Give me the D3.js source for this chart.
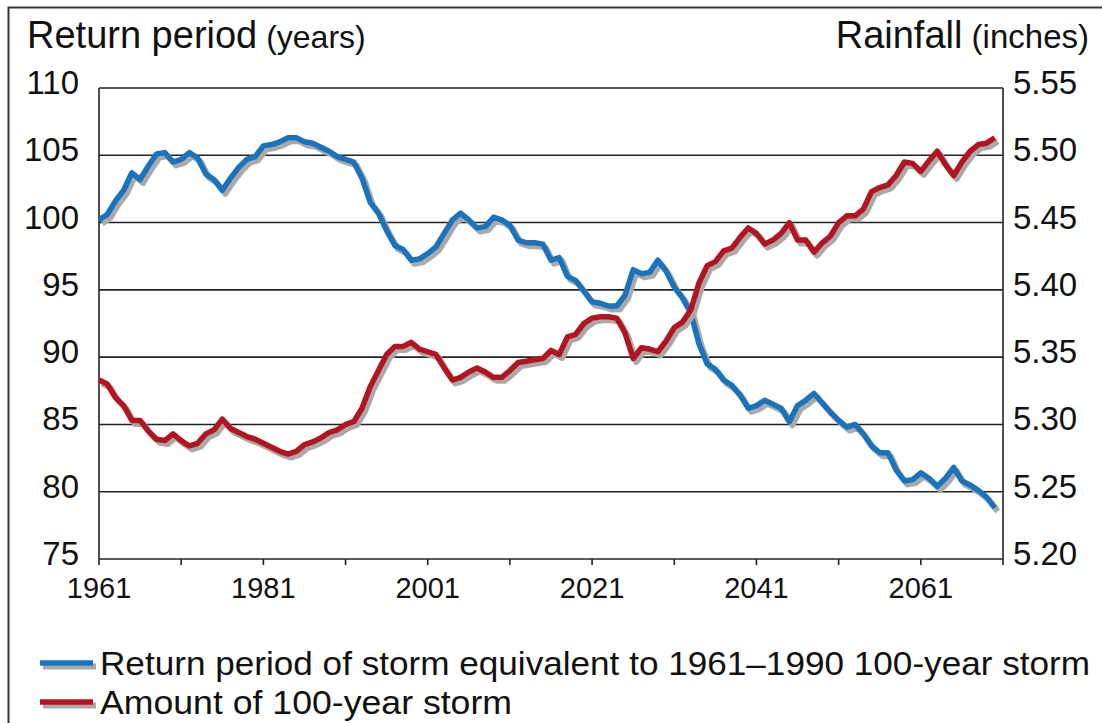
<!DOCTYPE html>
<html>
<head>
<meta charset="utf-8">
<script src="https://cdn.jsdelivr.net/npm/d3@7"></script>
<style>
  body { margin: 0; background: #fff; }
  svg { display: block; font-family: 'Liberation Sans', Arial, sans-serif; }
</style>
</head>
<body>
<svg id="chart" width="1102" height="723"></svg>
<script>
const firstYear = 1961;
const lastYear = 2070;
const years = d3.range(firstYear, lastYear + 1);

// Return period of storm equivalent to the 1961-1990 100-year storm (years)
const returnPeriod = [
  100.2, 100.6, 101.6, 102.4, 103.7, 103.2, 104.2, 105.1, 105.2, 104.5,
  104.7, 105.2, 104.8, 103.6, 103.2, 102.4, 103.3, 104.1, 104.7, 104.9,
  105.7, 105.8, 106.0, 106.3, 106.3, 106.0, 105.9, 105.6, 105.3, 104.9,
  104.7, 104.5, 103.3, 101.5, 100.7, 99.4, 98.3, 98.0, 97.2, 97.3,
  97.7, 98.2, 99.2, 100.2, 100.7, 100.2, 99.6, 99.7, 100.4, 100.2,
  99.8, 98.7, 98.5, 98.5, 98.4, 97.2, 97.4, 96.0, 95.7, 94.9,
  94.1, 94.0, 93.8, 93.8, 94.6, 96.5, 96.2, 96.3, 97.2, 96.4,
  95.2, 94.4, 93.3, 91.0, 89.5, 89.1, 88.3, 87.9, 87.2, 86.2,
  86.4, 86.8, 86.5, 86.2, 85.2, 86.4, 86.8, 87.3, 86.6, 85.9,
  85.3, 84.8, 85.0, 84.3, 83.4, 82.9, 82.9, 81.6, 80.8, 80.9,
  81.4, 81.0, 80.4, 81.0, 81.8, 80.8, 80.5, 80.1, 79.6, 78.8,
];

// Amount of the 100-year storm (inches)
const rainfall = [
  5.333, 5.330, 5.320, 5.314, 5.303, 5.303, 5.295, 5.289, 5.288, 5.293,
  5.288, 5.284, 5.286, 5.293, 5.296, 5.304, 5.297, 5.294, 5.291, 5.289,
  5.286, 5.283, 5.280, 5.278, 5.280, 5.285, 5.287, 5.290, 5.294, 5.296,
  5.300, 5.302, 5.312, 5.328, 5.340, 5.352, 5.358, 5.358, 5.361, 5.356,
  5.354, 5.352, 5.342, 5.333, 5.335, 5.339, 5.342, 5.339, 5.335, 5.335,
  5.340, 5.346, 5.347, 5.348, 5.349, 5.355, 5.352, 5.365, 5.367, 5.375,
  5.379, 5.380, 5.380, 5.379, 5.368, 5.349, 5.357, 5.356, 5.354, 5.362,
  5.372, 5.376, 5.385, 5.405, 5.418, 5.421, 5.429, 5.431, 5.439, 5.446,
  5.442, 5.434, 5.437, 5.442, 5.450, 5.437, 5.437, 5.428, 5.435, 5.440,
  5.450, 5.455, 5.455, 5.460, 5.473, 5.476, 5.478, 5.485, 5.495, 5.494,
  5.488, 5.496, 5.503, 5.493, 5.485, 5.495, 5.503, 5.508, 5.509, 5.513,
];

const xTicks = [1961, 1971, 1981, 1991, 2001, 2011, 2021, 2031, 2041, 2051, 2061, 2071];
const xLabels = [1961, 1981, 2001, 2021, 2041, 2061];
const leftTicks = [75, 80, 85, 90, 95, 100, 105, 110];
const rightTicks = [5.20, 5.25, 5.30, 5.35, 5.40, 5.45, 5.50, 5.55];

const legendItems = [
  { label: 'Return period of storm equivalent to 1961\u20131990 100-year storm', color: '#1a74bd', width: 990 },
  { label: 'Amount of 100-year storm', color: '#b3141f', width: 412 },
];

const svg = d3.select('#chart');
const margin = { top: 88, right: 99, bottom: 164, left: 99 };
const width = 1102 - margin.left - margin.right;
const height = 723 - margin.top - margin.bottom;
const shadow = '#a9a9a9';

// outer frame (only the top and left edges are inside the picture)
svg.append('path')
  .attr('d', 'M8.5,723 V7.5 H1102')
  .attr('fill', 'none')
  .attr('stroke', '#333')
  .attr('stroke-width', 2);

const g = svg.append('g')
  .attr('transform', `translate(${margin.left}, ${margin.top})`);

const x = d3.scaleLinear().domain([1961, 2071]).range([0, width]);
const yLeft = d3.scaleLinear().domain([75, 110]).range([height, 0]);
const yRight = d3.scaleLinear().domain([5.20, 5.55]).range([height, 0]);

// gridlines
g.selectAll('line.grid')
  .data(leftTicks)
  .enter().append('line')
  .attr('class', 'grid')
  .attr('x1', 0)
  .attr('x2', width)
  .attr('y1', d => yLeft(d))
  .attr('y2', d => yLeft(d))
  .attr('stroke', '#222')
  .attr('stroke-width', 1.6);

// frame sides
g.append('line')
  .attr('x1', 0).attr('x2', 0)
  .attr('y1', 0).attr('y2', height)
  .attr('stroke', '#222').attr('stroke-width', 1.6);
g.append('line')
  .attr('x1', width).attr('x2', width)
  .attr('y1', 0).attr('y2', height)
  .attr('stroke', '#222').attr('stroke-width', 1.6);

// x axis ticks and labels
g.selectAll('line.xtick')
  .data(xTicks)
  .enter().append('line')
  .attr('class', 'xtick')
  .attr('x1', d => x(d))
  .attr('x2', d => x(d))
  .attr('y1', height)
  .attr('y2', height + 6)
  .attr('stroke', '#222')
  .attr('stroke-width', 1.6);

g.selectAll('text.xlabel')
  .data(xLabels)
  .enter().append('text')
  .attr('class', 'xlabel')
  .attr('x', d => x(d))
  .attr('y', height + 39)
  .attr('text-anchor', 'middle')
  .attr('font-size', 29)
  .attr('fill', '#111')
  .text(d => d);

// y labels
g.selectAll('text.ylabel')
  .data(leftTicks)
  .enter().append('text')
  .attr('class', 'ylabel')
  .attr('x', -20)
  .attr('y', d => yLeft(d) + 6)
  .attr('text-anchor', 'end')
  .attr('font-size', 33)
  .attr('fill', '#111')
  .text(d => d);

g.selectAll('text.rlabel')
  .data(rightTicks)
  .enter().append('text')
  .attr('class', 'rlabel')
  .attr('x', width + 10)
  .attr('y', d => yRight(d) + 6)
  .attr('font-size', 33)
  .attr('fill', '#111')
  .text(d => d.toFixed(2));

// axis titles
const leftTitle = svg.append('text')
  .attr('x', 27)
  .attr('y', 48)
  .attr('fill', '#111');
leftTitle.append('tspan').attr('font-size', 38).text('Return period');
leftTitle.append('tspan').attr('font-size', 32).text(' (years)');

const rightTitle = svg.append('text')
  .attr('x', 1089)
  .attr('y', 48)
  .attr('text-anchor', 'end')
  .attr('fill', '#111');
rightTitle.append('tspan').attr('font-size', 38).text('Rainfall');
rightTitle.append('tspan').attr('font-size', 33).text(' (inches)');

// series lines with drop shadows
const blueLine = d3.line()
  .x((d, i) => x(years[i]))
  .y(d => yLeft(d));
const redLine = d3.line()
  .x((d, i) => x(years[i]))
  .y(d => yRight(d));

const series = [
  { values: returnPeriod, gen: blueLine, color: legendItems[0].color },
  { values: rainfall, gen: redLine, color: legendItems[1].color },
];

series.forEach((s) => {
  g.append('path')
    .datum(s.values)
    .attr('d', s.gen)
    .attr('transform', 'translate(3, 3.5)')
    .attr('fill', 'none')
    .attr('stroke', shadow)
    .attr('stroke-width', 6)
    .attr('stroke-linejoin', 'round');
  g.append('path')
    .datum(s.values)
    .attr('d', s.gen)
    .attr('fill', 'none')
    .attr('stroke', s.color)
    .attr('stroke-width', 5.5)
    .attr('stroke-linejoin', 'round');
});

// legend
const legend = svg.selectAll('g.legend')
  .data(legendItems)
  .enter().append('g')
  .attr('class', 'legend')
  .attr('transform', (d, i) => `translate(40, ${663 + (i * 39)})`);

legend.append('line')
  .attr('x1', 3).attr('x2', 56)
  .attr('y1', 3.5).attr('y2', 3.5)
  .attr('stroke', shadow)
  .attr('stroke-width', 6);
legend.append('line')
  .attr('x1', 0).attr('x2', 53)
  .attr('y1', 0).attr('y2', 0)
  .attr('stroke', d => d.color)
  .attr('stroke-width', 5.5);
legend.append('text')
  .attr('x', 60)
  .attr('y', 12)
  .attr('font-size', 33)
  .attr('fill', '#111')
  .attr('textLength', d => d.width)
  .attr('lengthAdjust', 'spacingAndGlyphs')
  .text(d => d.label);
</script>
</body>
</html>
